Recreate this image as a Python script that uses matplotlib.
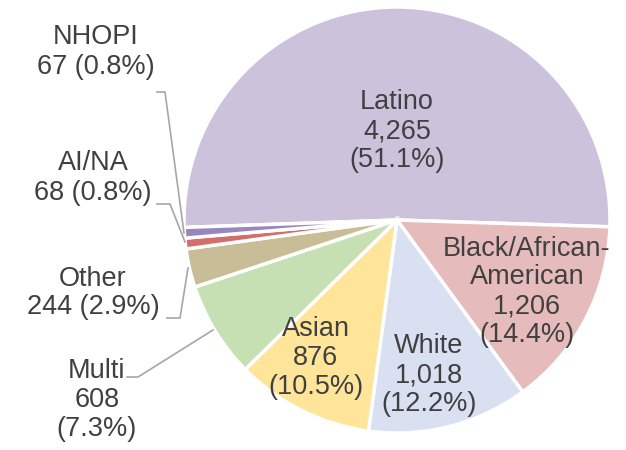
import matplotlib.pyplot as plt

plt.rcParams['font.family'] = ['Liberation Sans', 'DejaVu Sans']

groups = ['Latino', 'Black/African-\nAmerican', 'White', 'Asian', 'Multi', 'Other', 'AI/NA', 'NHOPI']
counts = [4265, 1206, 1018, 876, 608, 244, 68, 67]
shares = ['51.1%', '14.4%', '12.2%', '10.5%', '7.3%', '2.9%', '0.8%', '0.8%']
colors = ['#CCC2DC', '#E6BBBB', '#D8E0F1', '#FFE599', '#C6E0B4', '#C9BD97', '#D06F6B', '#9A86BF']

fig = plt.figure(figsize=(6.26, 4.5), dpi=100)
ax = fig.add_axes([0, 0, 1, 1])

H = 450
cx, cy, r = 397, H - 220, 213
ax.pie(counts, colors=colors, startangle=182, counterclock=False,
       center=(cx, cy), radius=r, frame=True,
       wedgeprops=dict(edgecolor='white', linewidth=2.5))
ax.set_xlim(0, 626)
ax.set_ylim(0, 450)
ax.set_aspect('equal')
ax.axis('off')

txt = dict(fontsize=19.5, color='#404040', ha='center', va='center', linespacing=1.15)

# labels inside the pie
ax.text(397, H - 131, f'{groups[0]}\n{counts[0]:,}\n({shares[0]})', **txt)
ax.text(527, H - 292, f'{groups[1]}\n{counts[1]:,}\n({shares[1]})', **txt)
ax.text(429, H - 375, f'{groups[2]}\n{counts[2]:,}\n({shares[2]})', **txt)
ax.text(316, H - 358, f'{groups[3]}\n{counts[3]:,}\n({shares[3]})', **txt)

# labels outside with leader lines
ax.text(97, H - 400, f'{groups[4]}\n{counts[4]:,}\n({shares[4]})', **txt)
ax.text(93, H - 293, f'{groups[5]}\n{counts[5]:,} ({shares[5]})', **txt)
ax.text(93, H - 178, f'{groups[6]}\n{counts[6]:,} ({shares[6]})', **txt)
ax.text(96, H - 52, f'{groups[7]}\n{counts[7]:,} ({shares[7]})', **txt)

line = dict(color='#A6A6A6', linewidth=1.2)
ax.plot([127, 138, 213], [H - 377, H - 377, H - 330], **line)
ax.plot([167, 180, 188], [H - 318, H - 318, H - 268], **line)
ax.plot([157, 170, 185], [H - 204, H - 204, H - 242], **line)
ax.plot([157, 165, 184], [H - 92, H - 92, H - 233], **line)

fig.savefig('out.png', dpi=100, facecolor='white')
